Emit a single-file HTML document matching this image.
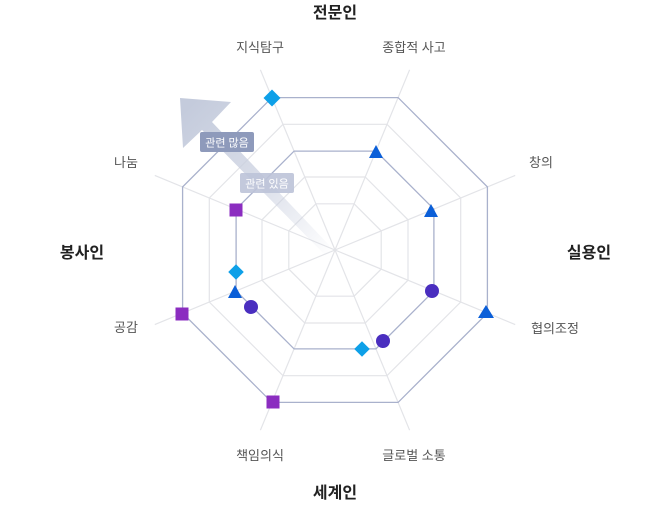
<!DOCTYPE html>
<html><head><meta charset="utf-8"><style>
html,body{margin:0;padding:0;background:#fff;}
body{width:670px;height:504px;overflow:hidden;}
svg text{font-family:"Liberation Sans","Noto Sans CJK KR",sans-serif;}
</style></head><body>
<svg width="670" height="504" viewBox="0 0 670 504" xmlns="http://www.w3.org/2000/svg">
<defs>
<linearGradient id="ag" x1="335" y1="250" x2="190" y2="105" gradientUnits="userSpaceOnUse">
<stop offset="0" stop-color="#c9cfdf" stop-opacity="0"/>
<stop offset="0.5" stop-color="#c9cfdf" stop-opacity="0.7"/>
<stop offset="1" stop-color="#c4cbdc" stop-opacity="1"/>
</linearGradient>
</defs>
<g stroke="#e3e4e8" stroke-width="1.2" fill="none">
<line x1="335" y1="250" x2="260.4" y2="69.8"/>
<line x1="335" y1="250" x2="409.6" y2="69.8"/>
<line x1="335" y1="250" x2="515.2" y2="175.4"/>
<line x1="335" y1="250" x2="515.2" y2="324.6"/>
<line x1="335" y1="250" x2="409.6" y2="430.2"/>
<line x1="335" y1="250" x2="260.4" y2="430.2"/>
<line x1="335" y1="250" x2="154.8" y2="324.6"/>
<line x1="335" y1="250" x2="154.8" y2="175.4"/>
<polygon points="283,124.3 387,124.3 460.7,198 460.7,302 387,375.7 283,375.7 209.3,302 209.3,198"/>
<polygon points="304.8,177 365.2,177 408,219.8 408,280.2 365.2,323 304.8,323 262,280.2 262,219.8"/>
<polygon points="315.9,203.8 354.1,203.8 381.2,230.9 381.2,269.1 354.1,296.2 315.9,296.2 288.8,269.1 288.8,230.9"/>
</g>
<g stroke="#a9b1cc" stroke-width="1.3" fill="none">
<polygon points="271.9,97.6 398.1,97.6 487.4,186.9 487.4,313.1 398.1,402.4 271.9,402.4 182.6,313.1 182.6,186.9"/>
<polygon points="294.1,151.1 375.9,151.1 433.9,209.1 433.9,290.9 375.9,348.9 294.1,348.9 236.1,290.9 236.1,209.1"/>
</g>
<!-- arrow -->
<polygon points="335,250 330,246 212,122 231,102 180,98 183,148 202,130 326,256" fill="url(#ag)"/>
<rect x="200" y="132" width="54" height="20" rx="2" fill="#8e9abb"/>
<text x="227" y="146.5" font-size="11" fill="#fff" text-anchor="middle">관련 많음</text>
<rect x="240" y="173" width="54" height="20" rx="2" fill="#bcc3d8" fill-opacity="0.9"/>
<text x="267" y="187.5" font-size="11" fill="#fff" text-anchor="middle">관련 있음</text>
<!-- markers -->
<g fill="#0ea0e8">
<rect x="-6" y="-6" width="12" height="12" transform="translate(272,98) rotate(45)"/>
<rect x="-5.5" y="-5.5" width="11" height="11" transform="translate(236,272) rotate(45)"/>
<rect x="-5.5" y="-5.5" width="11" height="11" transform="translate(362,349) rotate(45)"/>
</g>
<g fill="#0b5fd8">
<polygon points="376,145 383,158 369,158"/>
<polygon points="431,204 438,217 424,217"/>
<polygon points="486,305 494,318 478,318"/>
<polygon points="235,285 242,298 228,298"/>
</g>
<g fill="#4a2ebf">
<circle cx="432" cy="291" r="7"/>
<circle cx="383" cy="341" r="7"/>
<circle cx="251" cy="307" r="7"/>
</g>
<g fill="#8b2dc0">
<rect x="229.5" y="203.5" width="13" height="13"/>
<rect x="175.5" y="307.5" width="13" height="13"/>
<rect x="266.5" y="395.5" width="13" height="13"/>
</g>
<!-- labels -->
<g font-size="13" fill="#555" text-anchor="middle">
<text x="260" y="52">지식탐구</text>
<text x="414" y="52">종합적 사고</text>
<text x="541" y="167">창의</text>
<text x="555" y="333">협의조정</text>
<text x="414" y="460">글로벌 소통</text>
<text x="260" y="460">책임의식</text>
<text x="126" y="332">공감</text>
<text x="126" y="167">나눔</text>
</g>
<g font-size="16" font-weight="bold" fill="#222" text-anchor="middle">
<text x="335" y="18">전문인</text>
<text x="589" y="258">실용인</text>
<text x="335" y="498">세계인</text>
<text x="82" y="258">봉사인</text>
</g>
</svg>
</body></html>
